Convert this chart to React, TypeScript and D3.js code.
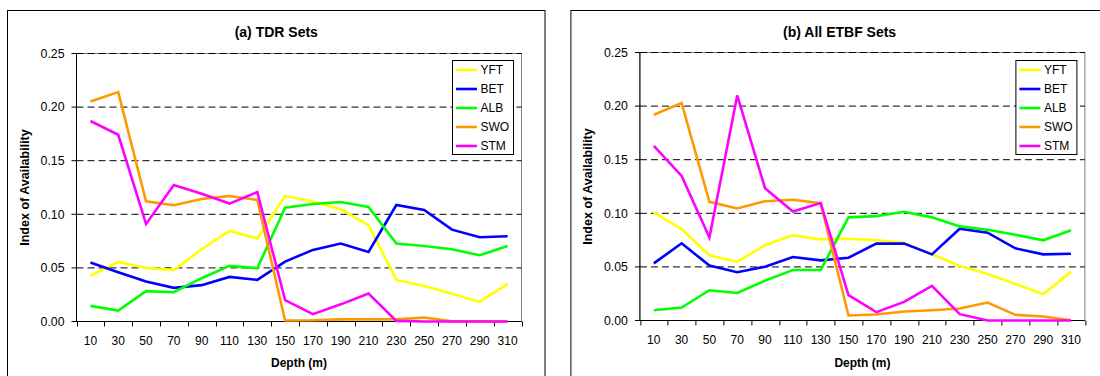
import React from "react";
import * as d3 from "d3";

const depths = [10, 30, 50, 70, 90, 110, 130, 150, 170, 190, 210, 230, 250, 270, 290, 310];
const yTicks = [0, 0.05, 0.1, 0.15, 0.2, 0.25];
const speciesNames = ["YFT", "BET", "ALB", "SWO", "STM"];
const speciesColors = ["#FFFF00", "#0000FF", "#00FF00", "#FF9900", "#FF00FF"];

const tdrYFT = [0.0425, 0.0556, 0.05, 0.048, 0.0674, 0.0845, 0.0773, 0.117, 0.112, 0.1047, 0.0898, 0.0388, 0.0332, 0.0258, 0.0183, 0.0351];
const tdrBET = [0.055, 0.046, 0.0373, 0.0314, 0.0339, 0.0416, 0.0388, 0.0559, 0.0668, 0.0727, 0.0649, 0.1087, 0.104, 0.0857, 0.0786, 0.0795];
const tdrALB = [0.0146, 0.0102, 0.0283, 0.0273, 0.0404, 0.0519, 0.0497, 0.1062, 0.1096, 0.1115, 0.1068, 0.0727, 0.0705, 0.0674, 0.0618, 0.0705];
const tdrSWO = [0.2053, 0.214, 0.1121, 0.1084, 0.1143, 0.117, 0.1134, 0.001, 0.0012, 0.002, 0.002, 0.002, 0.0037, 0.0003, 0.0003, 0];
const tdrSTM = [0.187, 0.1742, 0.091, 0.1273, 0.1192, 0.11, 0.1208, 0.0199, 0.0068, 0.016, 0.0261, 0.0006, 0, 0, 0, 0];

const etbfYFT = [0.1008, 0.0853, 0.0608, 0.0546, 0.0704, 0.0794, 0.0757, 0.0763, 0.0748, 0.0726, 0.0617, 0.0509, 0.0434, 0.0341, 0.0245, 0.0456];
const etbfBET = [0.0533, 0.072, 0.0512, 0.045, 0.0502, 0.0592, 0.0561, 0.0586, 0.0717, 0.0717, 0.0617, 0.0856, 0.0819, 0.0673, 0.0617, 0.0623];
const etbfALB = [0.0096, 0.0121, 0.0282, 0.0257, 0.0372, 0.0471, 0.0471, 0.0962, 0.0974, 0.1014, 0.0962, 0.0878, 0.0847, 0.08, 0.0748, 0.0841];
const etbfSWO = [0.192, 0.2028, 0.1107, 0.1045, 0.1113, 0.1126, 0.1095, 0.0047, 0.0056, 0.0084, 0.0096, 0.0112, 0.0167, 0.0053, 0.0037, 0.0003];
const etbfSTM = [0.1628, 0.1349, 0.0775, 0.21, 0.1234, 0.1017, 0.1095, 0.0236, 0.0078, 0.0174, 0.0323, 0.0059, 0, 0, 0, 0];

const FONT = "Arial, 'Liberation Sans', Helvetica, sans-serif";

type PanelProps = {
  ox: number;
  plotDy: number;
  title: string;
  series: number[][];
};

function Panel({ ox, plotDy, title, series }: PanelProps) {
  const boxL = 7.5, boxR = 545, boxT = 10.5;
  const pL = 76.5, pR = 521.5, pT = 53.5 + plotDy, pB = 321.5 + plotDy;
  const x = d3.scaleBand<string>().domain(depths.map(String)).range([pL, pR]).padding(0);
  const y = d3.scaleLinear().domain([0, 0.25]).range([pB, pT]);
  const bw = x.bandwidth();
  const line = d3
    .line<number>()
    .x((_, i) => (x(String(depths[i])) as number) + bw / 2)
    .y((v) => y(v));
  const fmt = d3.format(".2f");
  const boundaries = depths.map((d) => x(String(d)) as number).concat([pR]);
  const legX = pR - 69, legY = 60.5, legW = 61, legH = 94;
  return (
    <g transform={`translate(${ox},0)`}>
      <rect x={boxL} y={boxT} width={boxR - boxL} height={420} fill="white" stroke="#000" strokeWidth={1} />
      <text x={(boxL + boxR) / 2} y={37} textAnchor="middle" fontFamily={FONT} fontWeight="bold" fontSize={14}>
        {title}
      </text>
      <rect x={pL} y={pT} width={pR - pL} height={pB - pT} fill="white" stroke="#808080" strokeWidth={1} />
      {yTicks.slice(1).map((t) => (
        <line key={t} x1={pL} x2={pR} y1={y(t)} y2={y(t)} stroke="#000" strokeWidth={1} strokeDasharray="7,4" />
      ))}
      <line x1={pL} x2={pL} y1={pT} y2={pB} stroke="#000" strokeWidth={1} />
      <line x1={pL} x2={pR} y1={pB} y2={pB} stroke="#000" strokeWidth={1} />
      {yTicks.map((t) => (
        <g key={"yt" + t}>
          <line x1={pL - 5} x2={pL} y1={y(t)} y2={y(t)} stroke="#000" />
          <text x={pL - 12} y={y(t) + 4.2} textAnchor="end" fontFamily={FONT} fontSize={12.3}>
            {fmt(t)}
          </text>
        </g>
      ))}
      {boundaries.map((bx, i) => (
        <line key={"xt" + i} x1={Math.round(bx) + 0.5} x2={Math.round(bx) + 0.5} y1={pB} y2={pB + 5} stroke="#000" />
      ))}
      {depths.map((d) => (
        <text key={"xl" + d} x={(x(String(d)) as number) + bw / 2} y={345 + plotDy} textAnchor="middle" fontFamily={FONT} fontSize={12}>
          {d}
        </text>
      ))}
      <text x={(pL + pR) / 2} y={367} textAnchor="middle" fontFamily={FONT} fontWeight="bold" fontSize={12}>
        Depth (m)
      </text>
      <text
        transform={`translate(${29},${(pT + pB) / 2}) rotate(-90)`}
        textAnchor="middle"
        fontFamily={FONT}
        fontWeight="bold"
        fontSize={12.5}
      >
        Index of Availability
      </text>
      {series.map((s, i) => (
        <path key={"s" + i} d={line(s) || ""} fill="none" stroke={speciesColors[i]} strokeWidth={2.6} strokeLinejoin="miter" />
      ))}
      <rect x={legX} y={legY} width={legW} height={legH} fill="white" stroke="#000" strokeWidth={1} />
      {speciesNames.map((n, i) => {
        const ly = legY + 9.5 + i * 19;
        return (
          <g key={"lg" + n}>
            <line x1={legX + 3.5} x2={legX + 24.5} y1={ly} y2={ly} stroke={speciesColors[i]} strokeWidth={2.6} />
            <text x={legX + 28} y={ly + 4.2} fontFamily={FONT} fontSize={12}>
              {n}
            </text>
          </g>
        );
      })}
    </g>
  );
}

export default function App() {
  return (
    <svg
      width={1100}
      height={376}
      style={{ position: "absolute", left: 0, top: 0, background: "white" }}
      xmlns="http://www.w3.org/2000/svg"
    >
      <rect x={0} y={0} width={1100} height={376} fill="white" />
      <Panel ox={0} plotDy={0} title="(a) TDR Sets" series={[tdrYFT, tdrBET, tdrALB, tdrSWO, tdrSTM]} />
      <Panel ox={563.4} plotDy={-1} title="(b) All ETBF Sets" series={[etbfYFT, etbfBET, etbfALB, etbfSWO, etbfSTM]} />
    </svg>
  );
}
